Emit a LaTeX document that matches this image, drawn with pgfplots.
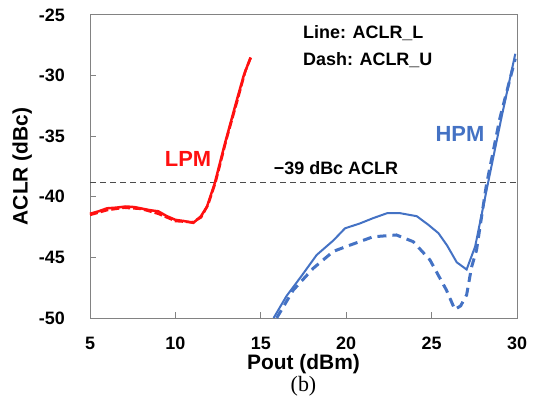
\documentclass[border=0pt]{standalone}
\usepackage{fontspec}
\setmainfont{Liberation Sans}
\newfontfamily\seriffont{Liberation Serif}
\usepackage{pgfplots}
\pgfplotsset{compat=1.18}
\definecolor{lpmred}{RGB}{255,16,16}
\definecolor{hpmblue}{RGB}{68,114,196}
\definecolor{framegray}{RGB}{130,130,130}

\begin{document}
\begin{tikzpicture}
\path[use as bounding box] (0,0) rectangle (533bp,408bp);
\begin{axis}[
  at={(90bp,90bp)}, anchor=south west,
  scale only axis, width=427bp, height=303bp,
  xmin=5, xmax=30, ymin=-50, ymax=-25,
  xtick={5,10,...,30}, ytick={-50,-45,...,-25},
  tick align=inside, xtick pos=bottom, ytick pos=left,
  major tick length=6bp,
  axis line style={framegray, line width=1bp},
  tick style={framegray, line width=1bp},
  /pgf/number format/assume math mode=true,
  ticklabel style={font=\bfseries\fontsize{18}{18}\selectfont, inner sep=0pt},
  yticklabel style={anchor=east, xshift=-25bp},
  xticklabel style={anchor=north, yshift=-19bp},
  xlabel={Pout (dBm)}, ylabel={ACLR (dBc)},
  label style={font=\bfseries\fontsize{21}{21}\selectfont, inner sep=0pt},
  xlabel style={at={(axis description cs:0.5,-0.152)}, anchor=center},
  ylabel style={at={(axis description cs:-0.159,0.5)}, anchor=center},
  clip=false,
]
% -39 dBc reference
\addplot[black!70, line width=1.3bp, dash pattern=on 6bp off 4bp]
  coordinates {(5,-38.8) (30,-38.8)};
% LPM, ACLR_L
\addplot[lpmred, line width=2.5bp] coordinates {
  (5,-41.4) (5.5,-41.2) (6,-40.95) (6.5,-40.9) (7.1,-40.8) (7.6,-40.85)
  (8.5,-41.1) (9,-41.2) (9.5,-41.6) (10,-41.9) (10.5,-42.0) (11.05,-42.15)
  (11.5,-41.6) (11.85,-40.8) (12.3,-38.9) (12.9,-35.6) (13.6,-32.0)
  (14.0,-30.0) (14.4,-28.5)};
% LPM, ACLR_U
\addplot[lpmred, line width=2.5bp, dash pattern=on 8bp off 3bp] coordinates {
  (5,-41.5) (6,-41.1) (7,-40.9) (8,-41.0) (9,-41.4) (10,-42.0) (11,-42.1)
  (11.5,-41.7) (11.9,-40.7) (12.35,-38.8) (13,-35.2) (13.6,-32.2)
  (14.1,-29.6) (14.45,-28.4)};
% HPM, ACLR_L
\addplot[hpmblue, line width=2bp] coordinates {
  (15.75,-50) (16.5,-48.2) (17.4,-46.5) (18.27,-44.8) (19.25,-43.6)
  (19.93,-42.6) (20.8,-42.2) (21.6,-41.75) (22.4,-41.35) (23.15,-41.35)
  (24.13,-41.6) (24.8,-42.3) (25.4,-43.0) (25.9,-44.0) (26.47,-45.4)
  (27.05,-46.0) (27.55,-44.1) (28.32,-38.75) (29.1,-33.4) (29.9,-28.2)};
% HPM, ACLR_U
\addplot[hpmblue, line width=3bp, dash pattern=on 9bp off 6bp] coordinates {
  (15.93,-50) (16.9,-47.7) (18.07,-45.9) (19.25,-44.5) (20.2,-44.0)
  (21.57,-43.3) (22.94,-43.15) (23.92,-43.7) (24.9,-45.2) (25.87,-47.7)
  (26.36,-49.3) (26.7,-49.0) (27.05,-48.1) (27.34,-45.8) (27.63,-44.4)
  (28.21,-39.0) (29.0,-33.5) (29.9,-28.6)};

\node[anchor=base west, inner sep=0pt, font=\bfseries\fontsize{18}{18}\selectfont]
  at (axis cs:17.47,-26.92) {Line: ACLR\_L};
\node[anchor=base west, inner sep=0pt, font=\bfseries\fontsize{18}{18}\selectfont]
  at (axis cs:17.47,-29.13) {Dash: ACLR\_U};
\node[anchor=base, inner sep=0pt, text=lpmred, font=\bfseries\fontsize{22}{22}\selectfont]
  at (axis cs:10.74,-37.52) {LPM};
\node[anchor=base, inner sep=0pt, text=hpmblue, font=\bfseries\fontsize{22}{22}\selectfont]
  at (axis cs:26.66,-35.45) {HPM};
\node[anchor=base, inner sep=0pt, font=\bfseries\fontsize{18}{18}\selectfont]
  at (axis cs:19.4,-38.2) {−39 dBc ACLR};
\node[anchor=center, inner sep=0pt, font=\seriffont\fontsize{22}{22}\selectfont]
  at (axis description cs:0.5,-0.224) {(b)};
\end{axis}
\end{tikzpicture}
\end{document}
